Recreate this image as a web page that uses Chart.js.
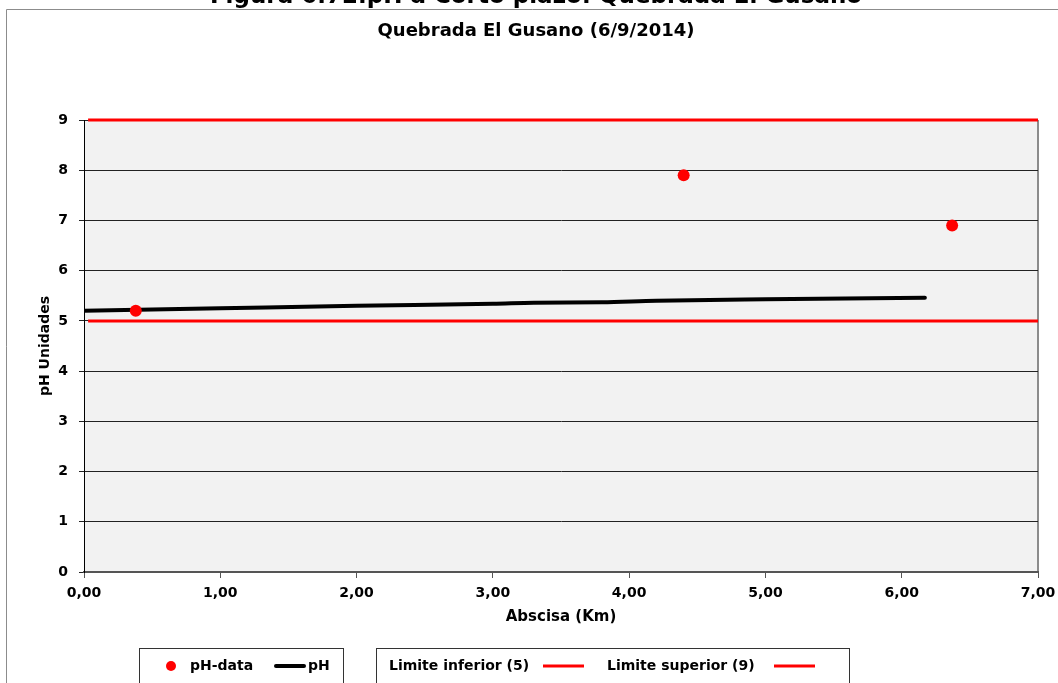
<!DOCTYPE html>
<html>
<head>
<meta charset="utf-8">
<script src="https://cdn.jsdelivr.net/npm/chart.js@4/dist/chart.umd.min.js"></script>
<style>
  html, body { margin: 0; padding: 0; background: #fff; }
</style>
</head>
<body>
<canvas id="myChart" width="1058" height="683"></canvas>
<script>
// sampled pH along the stream
const sampleKm = [0.38, 4.40, 6.37];
const samplePh = [5.2, 7.9, 6.9];
// modelled pH profile
const curveKm = [0.0, 1.0, 2.0, 3.0, 3.3, 3.8, 4.2, 5.0, 6.17];
const curvePh = [5.20, 5.25, 5.30, 5.34, 5.36, 5.37, 5.40, 5.43, 5.46];
// regulatory limits
const limitKm = [0.03, 7.0];
const lowerLimit = 5;
const upperLimit = 9;

const titleText = 'Figura 6.72.pH a Corto plazo: Quebrada El Gusano';
const subtitleText = 'Quebrada El Gusano (6/9/2014)';

const FONT = "'DejaVu Sans', sans-serif";

function pairs(xs, ys) {
  return xs.map((x, i) => ({ x: x, y: ys[i] }));
}

const decorations = {
  id: 'decorations',
  beforeDraw(chart) {
    const { ctx, chartArea } = chart;
    ctx.save();
    ctx.fillStyle = '#fff';
    ctx.fillRect(0, 0, chart.width, chart.height);
    // outer frame
    ctx.strokeStyle = '#8c8c8c';
    ctx.lineWidth = 1;
    ctx.beginPath();
    ctx.moveTo(6.5, chart.height);
    ctx.lineTo(6.5, 9.5);
    ctx.lineTo(chart.width, 9.5);
    ctx.stroke();
    // plot area
    ctx.fillStyle = '#f2f2f2';
    ctx.fillRect(chartArea.left, chartArea.top, chartArea.right - chartArea.left, chartArea.bottom - chartArea.top);
    ctx.strokeStyle = '#8c8c8c';
    ctx.lineWidth = 2;
    ctx.beginPath();
    ctx.moveTo(chartArea.right, chartArea.top);
    ctx.lineTo(chartArea.right, chartArea.bottom);
    ctx.stroke();
    ctx.restore();
  },
  afterDraw(chart) {
    const { ctx } = chart;
    const ds = chart.data.datasets;
    ctx.save();
    ctx.fillStyle = '#000';
    ctx.textAlign = 'center';
    ctx.textBaseline = 'alphabetic';
    ctx.font = 'bold 23px ' + FONT;
    ctx.fillText(titleText, 536, 3);
    ctx.textBaseline = 'middle';
    ctx.font = 'bold 18px ' + FONT;
    ctx.fillText(subtitleText, 536, 31);

    // legend boxes
    ctx.strokeStyle = '#333';
    ctx.lineWidth = 1;
    ctx.strokeRect(139.5, 648.5, 204, 50);
    ctx.strokeRect(376.5, 648.5, 473, 50);

    ctx.font = 'bold 14px ' + FONT;
    ctx.textAlign = 'left';
    const ty = 666;
    // box 1: pH-data and pH
    ctx.fillStyle = ds[0].backgroundColor;
    ctx.beginPath();
    ctx.arc(171, ty, 5, 0, Math.PI * 2);
    ctx.fill();
    ctx.fillStyle = '#000';
    ctx.fillText(ds[0].label, 190, ty);
    ctx.strokeStyle = ds[1].borderColor;
    ctx.lineWidth = 4;
    ctx.lineCap = 'round';
    ctx.beginPath();
    ctx.moveTo(276, ty);
    ctx.lineTo(304, ty);
    ctx.stroke();
    ctx.fillText(ds[1].label, 308, ty);
    // box 2: limits
    ctx.lineCap = 'butt';
    ctx.lineWidth = 3;
    ctx.fillText(ds[2].label, 389, ty);
    ctx.strokeStyle = ds[2].borderColor;
    ctx.beginPath();
    ctx.moveTo(543, ty);
    ctx.lineTo(584, ty);
    ctx.stroke();
    ctx.fillText(ds[3].label, 607, ty);
    ctx.strokeStyle = ds[3].borderColor;
    ctx.beginPath();
    ctx.moveTo(774, ty);
    ctx.lineTo(815, ty);
    ctx.stroke();
    ctx.restore();
  }
};

Chart.defaults.font.family = FONT;
Chart.defaults.color = '#000';

const ctx = document.getElementById('myChart');
const chart = new Chart(ctx, {
  type: 'scatter',
  data: {
    datasets: [
      {
        label: 'pH-data',
        data: pairs(sampleKm, samplePh),
        backgroundColor: '#ff0000',
        borderColor: '#ff0000',
        pointRadius: 6,
        pointBorderWidth: 0,
        showLine: false
      },
      {
        label: 'pH',
        data: pairs(curveKm, curvePh),
        borderColor: '#000',
        borderWidth: 4,
        borderCapStyle: 'round',
        pointRadius: 0,
        showLine: true,
        cubicInterpolationMode: 'monotone'
      },
      {
        label: 'Limite inferior (5)',
        data: pairs(limitKm, limitKm.map(() => lowerLimit)),
        borderColor: '#ff0000',
        borderWidth: 3,
        pointRadius: 0,
        showLine: true,
        clip: 4
      },
      {
        label: 'Limite superior (9)',
        data: pairs(limitKm, limitKm.map(() => upperLimit)),
        borderColor: '#ff0000',
        borderWidth: 3,
        pointRadius: 0,
        showLine: true,
        clip: 4
      }
    ]
  },
  options: {
    responsive: false,
    animation: false,
    layout: { padding: { left: 0, right: 20, top: 120, bottom: 53 } },
    plugins: {
      legend: { display: false },
      tooltip: { enabled: false }
    },
    scales: {
      x: {
        type: 'linear',
        min: 0,
        max: 7,
        ticks: {
          stepSize: 1,
          padding: 7,
          font: { size: 14, weight: 'bold' },
          callback: v => v.toFixed(2).replace('.', ',')
        },
        grid: { drawOnChartArea: false, drawTicks: true, tickLength: 6, color: '#555' },
        border: { color: '#555', width: 2 },
        title: {
          display: true,
          text: 'Abscisa (Km)',
          font: { size: 15, weight: 'bold' },
          padding: { top: 4, bottom: 4 }
        },
        afterFit(scale) {
          scale.height = 58;
          scale.paddingLeft = 0;
          scale.paddingRight = 0;
        }
      },
      y: {
        min: 0,
        max: 9,
        ticks: {
          stepSize: 1,
          padding: 11,
          font: { size: 14, weight: 'bold' }
        },
        grid: { color: '#222', lineWidth: 1, tickLength: 5 },
        border: { color: '#000', width: 1 },
        title: {
          display: true,
          text: 'pH Unidades',
          font: { size: 14, weight: 'bold' },
          padding: { top: 37, bottom: 0 }
        },
        afterFit(scale) { scale.width = 84; }
      }
    }
  },
  plugins: [decorations]
});
</script>
</body>
</html>
